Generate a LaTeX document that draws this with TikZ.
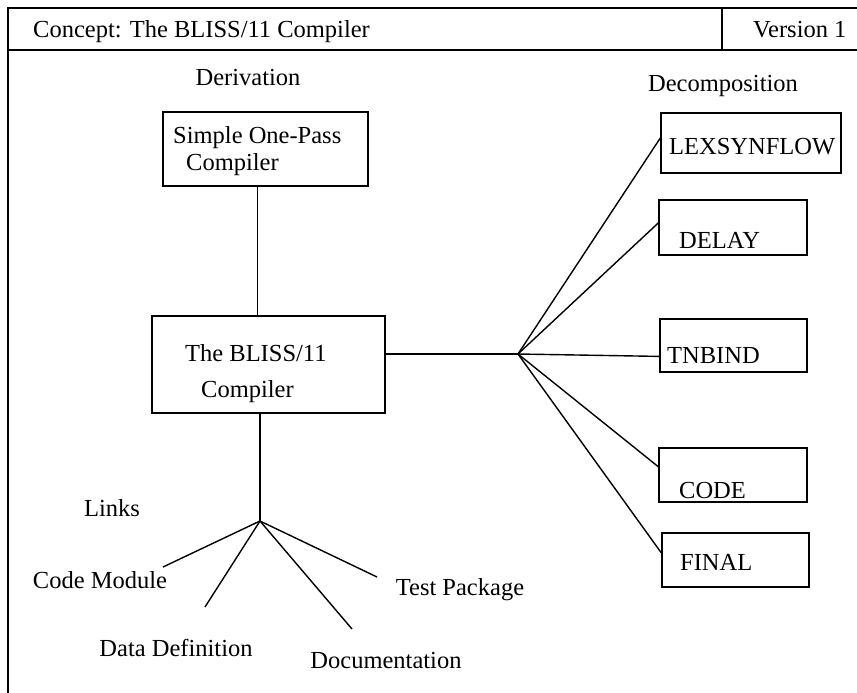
\documentclass[tikz,border=0pt]{standalone}
\usepackage{fontspec}
\setmainfont{Liberation Serif}
\usetikzlibrary{calc}
\begin{document}
\begin{tikzpicture}[x=1pt,y=-1pt,
  every node/.style={font=\fontsize{24.5}{27}\selectfont, inner sep=0pt},
  box/.style={draw, line width=1.5pt, inner sep=0pt},
  lbl/.style={anchor=base west},
  link/.style={line width=1.4pt}]
\useasboundingbox (0,0) rectangle (857,693);

% header frame
\draw[line width=1.5pt] (857,8) -- (8,8) -- (8,693);
\draw[line width=1.5pt] (8,50) -- (857,50);
\draw[line width=1.5pt] (722,8) -- (722,50);
\node[lbl] (title) at (33,38) {Concept: The BLISS/11 Compiler};
\node[lbl] (version) at (753,38) {Version 1};

% section headings
\node (deriv) at (248,78) {Derivation};
\node (decomp) at (723,86) {Decomposition};
\node (links) at (112,508) {Links};

% derivation chain
\node[box, minimum width=205, minimum height=74] (simple) at (265.5,149) {};
\node[lbl] (simpleA) at (173,143) {Simple One-Pass};
\node[lbl] (simpleB) at (186,170) {Compiler};

\node[box, minimum width=233, minimum height=97] (bliss) at (268.5,364.5) {};
\node[lbl] (blissA) at (185,361) {The BLISS/11};
\node[lbl] (blissB) at (201,397) {Compiler};

% decomposition modules
\node[box, minimum width=180, minimum height=60] (lex) at (751,143) {};
\node[lbl] (lexT) at (669,154) {LEXSYNFLOW};
\node[box, minimum width=148, minimum height=55] (delay) at (733,227.5) {};
\node[lbl] (delayT) at (679,248) {DELAY};
\node[box, minimum width=147, minimum height=53] (tnbind) at (733.5,345.5) {};
\node[lbl] (tnbindT) at (667,363) {TNBIND};
\node[box, minimum width=148, minimum height=54] (code) at (733,475) {};
\node[lbl] (codeT) at (679,498) {CODE};
\node[box, minimum width=147, minimum height=54] (final) at (735.5,560) {};
\node[lbl] (finalT) at (680,570) {FINAL};

% link targets
\node (cm) at (100,580) {Code Module};
\node (dd) at (176,648) {Data Definition};
\node (doc) at (386,661) {Documentation};
\node (tp) at (460,590) {Test Package};

% junction points
\coordinate (hubR) at (518,354);
\coordinate (hubL) at (260,521);
\coordinate (cmEnd) at (163,567);
\coordinate (ddEnd) at (205,607);
\coordinate (docEnd) at (352,629);
\coordinate (tpEnd) at (377,577);

% derivation connector
\draw[link] ($(simple.south west)!0.46!(simple.south east)$) coordinate (sd)
  -- (sd |- bliss.north);

% decomposition fan
\draw[link] (bliss.east |- hubR) -- (hubR);
\draw[link] (hubR) -- ($(lex.north west)!0.42!(lex.south west)$);
\draw[link] (hubR) -- ($(delay.north west)!0.42!(delay.south west)$);
\draw[link] (hubR) -- ($(tnbind.north west)!0.70!(tnbind.south west)$);
\draw[link] (hubR) -- ($(code.north west)!0.35!(code.south west)$);
\draw[link] (hubR) -- ($(final.north west)!0.37!(final.south west)$);

% links fan
\draw[link] (hubL |- bliss.south) -- (hubL);
\draw[link] (hubL) -- (cmEnd);
\draw[link] (hubL) -- (ddEnd);
\draw[link] (hubL) -- (docEnd);
\draw[link] (hubL) -- (tpEnd);
\end{tikzpicture}
\end{document}
